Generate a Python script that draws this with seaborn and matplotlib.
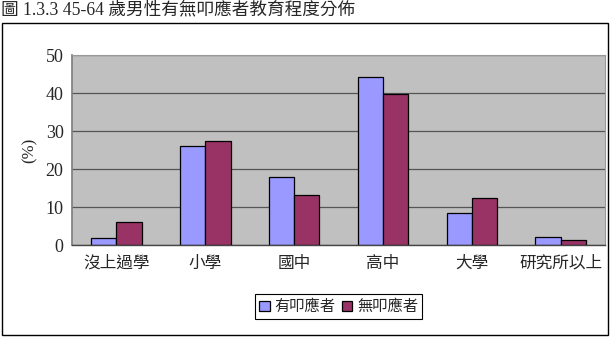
import matplotlib
matplotlib.use("Agg")
import matplotlib.pyplot as plt
import seaborn as sns
import pandas as pd
from matplotlib.patches import Rectangle

categories = ["沒上過學", "小學", "國中", "高中", "大學", "研究所以上"]
series_names = ["有叩應者", "無叩應者"]
with_vals = [1.8, 26.0, 18.0, 44.2, 8.5, 2.0]
without_vals = [6.0, 27.3, 13.2, 39.8, 12.5, 1.2]
y_ticks = [0, 10, 20, 30, 40, 50]
title = "圖 1.3.3 45-64 歲男性有無叩應者教育程度分佈"

sns.set_theme(style="white")
cjk = ["Noto Sans CJK TC", "DejaVu Sans"]
serif_cjk = ["Liberation Serif", "Noto Sans CJK TC"]
plt.rcParams['font.family'] = cjk

df = pd.DataFrame({
    "cat": categories * 2,
    "val": with_vals + without_vals,
    "grp": [series_names[0]] * len(categories) + [series_names[1]] * len(categories),
})

fig = plt.figure(figsize=(6.15, 3.38), dpi=100)
ax = fig.add_axes([0.117, 0.275, 0.867, 0.562])

sns.barplot(data=df, x="cat", y="val", hue="grp", order=categories,
            hue_order=series_names, palette=["#9999FF", "#993366"],
            width=0.57, gap=0, edgecolor="black", linewidth=0.9,
            saturation=1, ax=ax, legend=True)

ax.set_facecolor("#C0C0C0")
ax.set_ylim(0, 50)
ax.set_xlim(-0.5, len(categories) - 0.5)
ax.set_yticks(y_ticks)
ax.set_yticklabels([str(t) for t in y_ticks], family="Liberation Serif", fontsize=13)
ax.yaxis.grid(True, color="#555555", linewidth=0.9)
ax.set_axisbelow(True)
for s in ["top", "right"]:
    ax.spines[s].set_color("#999999")
    ax.spines[s].set_linewidth(0.8)
ax.spines["left"].set_color("#808080")
ax.spines["bottom"].set_color("#444444")
ax.spines["bottom"].set_linewidth(1.0)

ax.set_xticks(range(len(categories)))
ax.set_xticklabels(categories, fontsize=12, family=cjk)
ax.tick_params(axis="x", length=0, pad=7)
ax.set_xticks([i + 0.5 for i in range(len(categories) - 1)], minor=True)
ax.tick_params(axis="x", which="minor", direction="in", length=5, color="#333333", width=0.8)
ax.tick_params(axis="y", length=0, pad=6)
ax.set_xlabel("")
ax.set_ylabel("(%)", fontsize=12, family="Liberation Serif", labelpad=6)

ax.legend(loc="upper center", bbox_to_anchor=(0.5, -0.26), ncol=2,
          frameon=True, fancybox=False, edgecolor="black", framealpha=1,
          prop={"family": cjk, "size": 11}, handlelength=0.7, handleheight=0.7,
          handletextpad=0.3, columnspacing=0.4, borderpad=0.25, borderaxespad=0)
leg = ax.get_legend()
leg.get_frame().set_linewidth(0.8)

fig.patches.append(Rectangle((0.003, 0.009), 0.986, 0.923, transform=fig.transFigure,
                             fill=False, edgecolor="black", linewidth=1.0))
fig.text(0.002, 0.972, title, fontsize=12.7, family=serif_cjk, ha="left", va="center")

fig.savefig("out.png", dpi=100)
